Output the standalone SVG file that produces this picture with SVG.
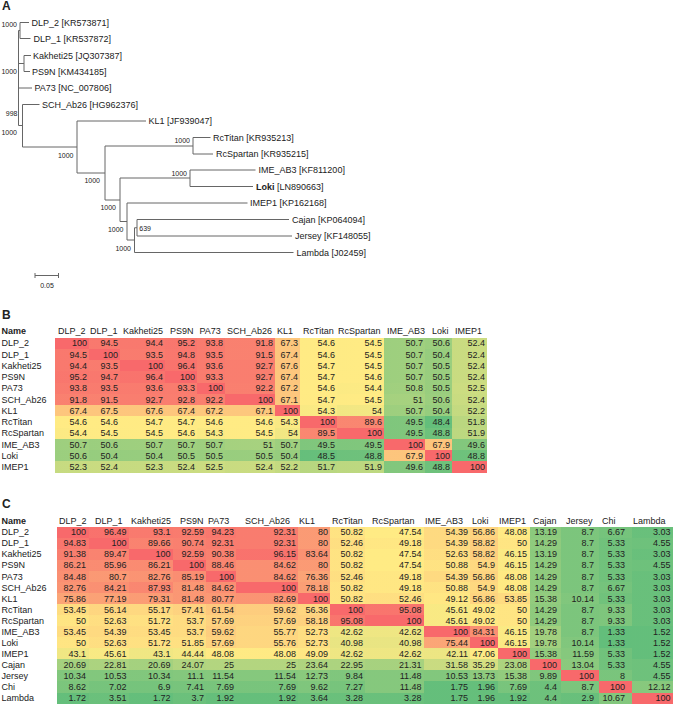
<svg xmlns="http://www.w3.org/2000/svg" width="673" height="704" viewBox="0 0 673 704">
<style>
text{font-family:"Liberation Sans",Arial,sans-serif;fill:#222}
.pl{font-size:12px;font-weight:bold}
.lf{font-size:9px}
.bs{font-size:7px;text-anchor:end}
.t{font-size:9px}
.nm{font-size:9px;font-weight:bold}
.v{font-size:9px;text-anchor:end}
.edge{fill:none;stroke:#666;stroke-width:1}
.hb rect{fill:url(#gB);shape-rendering:crispEdges}
.hc rect{fill:url(#gC);shape-rendering:crispEdges}
</style>
<defs>
<linearGradient id="gB" gradientUnits="userSpaceOnUse" x1="48.4" y1="0" x2="100" y2="0"><stop offset="0" stop-color="#63BE7B"/><stop offset="0.1192" stop-color="#FFEB84"/><stop offset="1" stop-color="#F8696B"/></linearGradient>
<linearGradient id="gC" gradientUnits="userSpaceOnUse" x1="1.33" y1="0" x2="100" y2="0"><stop offset="0" stop-color="#63BE7B"/><stop offset="0.4683" stop-color="#FFEB84"/><stop offset="1" stop-color="#F8696B"/></linearGradient>
</defs>
<rect width="673" height="704" fill="#fff"/>
<text class="pl" x="2" y="10">A</text>
<text class="pl" x="2" y="319">B</text>
<text class="pl" x="2" y="508">C</text>

<g id="connectors">
<path class="edge" d="M29 22.5H20V38.5H30.5M31 55.5H24V71.5H30M20 30.5H18.5V125.5H22.5M18.5 63.5H24M18.5 88H32M39.5 104.5H22.5V147H77M146 121H77V173H105M105 146V200H120M105 146H193M210.5 137.5H193V154H213M120 178V221.5H127M120 178H190M255.5 170H190V186.5H253M247.5 203H127V240H134.5M134.5 227.75V252.5H293.5M134.5 227.75H137M289 219.5H137V236H292"/>
<path class="edge" d="M35 275.5H58.5M35 273V278M58.5 273V278"/>
</g>
<g id="bootstrap">
<text class="bs" x="17" y="27">1000</text>
<text class="bs" x="17" y="73.5">1000</text>
<text class="bs" x="17.5" y="116">998</text>
<text class="bs" x="17" y="135">1000</text>
<text class="bs" x="73.5" y="157.5">1000</text>
<text class="bs" x="190" y="142.7">1000</text>
<text class="bs" x="100" y="183">1000</text>
<text class="bs" x="187" y="175.7">1000</text>
<text class="bs" x="116" y="210">1000</text>
<text class="bs" x="123.5" y="231.7">1000</text>
<text class="bs" x="139.3" y="230.7" style="text-anchor:start">639</text>
<text class="bs" x="131" y="250.7">1000</text>
<text class="bs" x="47" y="287.5" style="text-anchor:middle">0.05</text>
</g>
<g id="leaves">
<g id="n-DLP_2"><text class="lf" x="31.5" y="25.8">DLP_2 [KR573871]</text></g>
<g id="n-DLP_1"><text class="lf" x="33.5" y="41.8">DLP_1 [KR537872]</text></g>
<g id="n-Kakheti25"><text class="lf" x="33" y="58.8">Kakheti25 [JQ307387]</text></g>
<g id="n-PS9N"><text class="lf" x="32" y="74.8">PS9N [KM434185]</text></g>
<g id="n-PA73"><text class="lf" x="34.5" y="91.3">PA73 [NC_007806]</text></g>
<g id="n-SCH_Ab26"><text class="lf" x="42" y="107.8">SCH_Ab26 [HG962376]</text></g>
<g id="n-KL1"><text class="lf" x="148.5" y="124.3">KL1 [JF939047]</text></g>
<g id="n-RcTitan"><text class="lf" x="213" y="140.8">RcTitan [KR935213]</text></g>
<g id="n-RcSpartan"><text class="lf" x="216" y="157.3">RcSpartan [KR935215]</text></g>
<g id="n-IME_AB3"><text class="lf" x="258.5" y="173.3">IME_AB3 [KF811200]</text></g>
<g id="n-Loki"><text class="lf" x="256" y="189.8"><tspan font-weight="bold">Loki</tspan> [LN890663]</text></g>
<g id="n-IMEP1"><text class="lf" x="250" y="206.3">IMEP1 [KP162168]</text></g>
<g id="n-Cajan"><text class="lf" x="292" y="222.8">Cajan [KP064094]</text></g>
<g id="n-Jersey"><text class="lf" x="295" y="239.3">Jersey [KF148055]</text></g>
<g id="n-Lambda"><text class="lf" x="296.5" y="255.8">Lambda [J02459]</text></g>
</g>

<g id="heatmapB">
<g class="hb">
<g transform="translate(55 337.5) scale(340 11.25)"><rect x="100" y="0" width=".1" height="1" transform="translate(-100)"/><rect x="94.5" y="1" width=".1" height="1" transform="translate(-94.5)"/><rect x="94.4" y="2" width=".1" height="1" transform="translate(-94.4)"/><rect x="95.2" y="3" width=".1" height="1" transform="translate(-95.2)"/><rect x="93.8" y="4" width=".1" height="1" transform="translate(-93.8)"/><rect x="91.8" y="5" width=".1" height="1" transform="translate(-91.8)"/><rect x="67.4" y="6" width=".1" height="1" transform="translate(-67.4)"/><rect x="54.6" y="7" width=".1" height="1" transform="translate(-54.6)"/><rect x="54.4" y="8" width=".1" height="1" transform="translate(-54.4)"/><rect x="50.7" y="9" width=".1" height="1" transform="translate(-50.7)"/><rect x="50.6" y="10" width=".1" height="1" transform="translate(-50.6)"/><rect x="52.3" y="11" width=".1" height="1" transform="translate(-52.3)"/></g>
<g transform="translate(89 337.5) scale(310 11.25)"><rect x="94.5" y="0" width=".1" height="1" transform="translate(-94.5)"/><rect x="100" y="1" width=".1" height="1" transform="translate(-100)"/><rect x="93.5" y="2" width=".1" height="1" transform="translate(-93.5)"/><rect x="94.7" y="3" width=".1" height="1" transform="translate(-94.7)"/><rect x="93.5" y="4" width=".1" height="1" transform="translate(-93.5)"/><rect x="91.5" y="5" width=".1" height="1" transform="translate(-91.5)"/><rect x="67.5" y="6" width=".1" height="1" transform="translate(-67.5)"/><rect x="54.6" y="7" width=".1" height="1" transform="translate(-54.6)"/><rect x="54.5" y="8" width=".1" height="1" transform="translate(-54.5)"/><rect x="50.6" y="9" width=".1" height="1" transform="translate(-50.6)"/><rect x="50.4" y="10" width=".1" height="1" transform="translate(-50.4)"/><rect x="52.4" y="11" width=".1" height="1" transform="translate(-52.4)"/></g>
<g transform="translate(120 337.5) scale(450 11.25)"><rect x="94.4" y="0" width=".1" height="1" transform="translate(-94.4)"/><rect x="93.5" y="1" width=".1" height="1" transform="translate(-93.5)"/><rect x="100" y="2" width=".1" height="1" transform="translate(-100)"/><rect x="96.4" y="3" width=".1" height="1" transform="translate(-96.4)"/><rect x="93.6" y="4" width=".1" height="1" transform="translate(-93.6)"/><rect x="92.7" y="5" width=".1" height="1" transform="translate(-92.7)"/><rect x="67.6" y="6" width=".1" height="1" transform="translate(-67.6)"/><rect x="54.7" y="7" width=".1" height="1" transform="translate(-54.7)"/><rect x="54.5" y="8" width=".1" height="1" transform="translate(-54.5)"/><rect x="50.7" y="9" width=".1" height="1" transform="translate(-50.7)"/><rect x="50.4" y="10" width=".1" height="1" transform="translate(-50.4)"/><rect x="52.3" y="11" width=".1" height="1" transform="translate(-52.3)"/></g>
<g transform="translate(165 337.5) scale(320 11.25)"><rect x="95.2" y="0" width=".1" height="1" transform="translate(-95.2)"/><rect x="94.8" y="1" width=".1" height="1" transform="translate(-94.8)"/><rect x="96.4" y="2" width=".1" height="1" transform="translate(-96.4)"/><rect x="100" y="3" width=".1" height="1" transform="translate(-100)"/><rect x="93.3" y="4" width=".1" height="1" transform="translate(-93.3)"/><rect x="92.8" y="5" width=".1" height="1" transform="translate(-92.8)"/><rect x="67.4" y="6" width=".1" height="1" transform="translate(-67.4)"/><rect x="54.7" y="7" width=".1" height="1" transform="translate(-54.7)"/><rect x="54.6" y="8" width=".1" height="1" transform="translate(-54.6)"/><rect x="50.7" y="9" width=".1" height="1" transform="translate(-50.7)"/><rect x="50.5" y="10" width=".1" height="1" transform="translate(-50.5)"/><rect x="52.4" y="11" width=".1" height="1" transform="translate(-52.4)"/></g>
<g transform="translate(197 337.5) scale(280 11.25)"><rect x="93.8" y="0" width=".1" height="1" transform="translate(-93.8)"/><rect x="93.5" y="1" width=".1" height="1" transform="translate(-93.5)"/><rect x="93.6" y="2" width=".1" height="1" transform="translate(-93.6)"/><rect x="93.3" y="3" width=".1" height="1" transform="translate(-93.3)"/><rect x="100" y="4" width=".1" height="1" transform="translate(-100)"/><rect x="92.2" y="5" width=".1" height="1" transform="translate(-92.2)"/><rect x="67.2" y="6" width=".1" height="1" transform="translate(-67.2)"/><rect x="54.6" y="7" width=".1" height="1" transform="translate(-54.6)"/><rect x="54.3" y="8" width=".1" height="1" transform="translate(-54.3)"/><rect x="50.7" y="9" width=".1" height="1" transform="translate(-50.7)"/><rect x="50.5" y="10" width=".1" height="1" transform="translate(-50.5)"/><rect x="52.5" y="11" width=".1" height="1" transform="translate(-52.5)"/></g>
<g transform="translate(225 337.5) scale(500 11.25)"><rect x="91.8" y="0" width=".1" height="1" transform="translate(-91.8)"/><rect x="91.5" y="1" width=".1" height="1" transform="translate(-91.5)"/><rect x="92.7" y="2" width=".1" height="1" transform="translate(-92.7)"/><rect x="92.7" y="3" width=".1" height="1" transform="translate(-92.7)"/><rect x="92.2" y="4" width=".1" height="1" transform="translate(-92.2)"/><rect x="100" y="5" width=".1" height="1" transform="translate(-100)"/><rect x="67.1" y="6" width=".1" height="1" transform="translate(-67.1)"/><rect x="54.6" y="7" width=".1" height="1" transform="translate(-54.6)"/><rect x="54.5" y="8" width=".1" height="1" transform="translate(-54.5)"/><rect x="51" y="9" width=".1" height="1" transform="translate(-51)"/><rect x="50.5" y="10" width=".1" height="1" transform="translate(-50.5)"/><rect x="52.4" y="11" width=".1" height="1" transform="translate(-52.4)"/></g>
<g transform="translate(275 337.5) scale(250 11.25)"><rect x="67.3" y="0" width=".1" height="1" transform="translate(-67.3)"/><rect x="67.4" y="1" width=".1" height="1" transform="translate(-67.4)"/><rect x="67.6" y="2" width=".1" height="1" transform="translate(-67.6)"/><rect x="67.4" y="3" width=".1" height="1" transform="translate(-67.4)"/><rect x="67.2" y="4" width=".1" height="1" transform="translate(-67.2)"/><rect x="67.1" y="5" width=".1" height="1" transform="translate(-67.1)"/><rect x="100" y="6" width=".1" height="1" transform="translate(-100)"/><rect x="54.3" y="7" width=".1" height="1" transform="translate(-54.3)"/><rect x="54" y="8" width=".1" height="1" transform="translate(-54)"/><rect x="50.7" y="9" width=".1" height="1" transform="translate(-50.7)"/><rect x="50.4" y="10" width=".1" height="1" transform="translate(-50.4)"/><rect x="52.2" y="11" width=".1" height="1" transform="translate(-52.2)"/></g>
<g transform="translate(300 337.5) scale(370 11.25)"><rect x="54.6" y="0" width=".1" height="1" transform="translate(-54.6)"/><rect x="54.6" y="1" width=".1" height="1" transform="translate(-54.6)"/><rect x="54.7" y="2" width=".1" height="1" transform="translate(-54.7)"/><rect x="54.7" y="3" width=".1" height="1" transform="translate(-54.7)"/><rect x="54.6" y="4" width=".1" height="1" transform="translate(-54.6)"/><rect x="54.7" y="5" width=".1" height="1" transform="translate(-54.7)"/><rect x="54.3" y="6" width=".1" height="1" transform="translate(-54.3)"/><rect x="100" y="7" width=".1" height="1" transform="translate(-100)"/><rect x="89.5" y="8" width=".1" height="1" transform="translate(-89.5)"/><rect x="49.5" y="9" width=".1" height="1" transform="translate(-49.5)"/><rect x="48.5" y="10" width=".1" height="1" transform="translate(-48.5)"/><rect x="51.7" y="11" width=".1" height="1" transform="translate(-51.7)"/></g>
<g transform="translate(337 337.5) scale(470 11.25)"><rect x="54.5" y="0" width=".1" height="1" transform="translate(-54.5)"/><rect x="54.5" y="1" width=".1" height="1" transform="translate(-54.5)"/><rect x="54.5" y="2" width=".1" height="1" transform="translate(-54.5)"/><rect x="54.6" y="3" width=".1" height="1" transform="translate(-54.6)"/><rect x="54.4" y="4" width=".1" height="1" transform="translate(-54.4)"/><rect x="54.5" y="5" width=".1" height="1" transform="translate(-54.5)"/><rect x="54" y="6" width=".1" height="1" transform="translate(-54)"/><rect x="89.6" y="7" width=".1" height="1" transform="translate(-89.6)"/><rect x="100" y="8" width=".1" height="1" transform="translate(-100)"/><rect x="49.5" y="9" width=".1" height="1" transform="translate(-49.5)"/><rect x="48.8" y="10" width=".1" height="1" transform="translate(-48.8)"/><rect x="51.9" y="11" width=".1" height="1" transform="translate(-51.9)"/></g>
<g transform="translate(384 337.5) scale(410 11.25)"><rect x="50.7" y="0" width=".1" height="1" transform="translate(-50.7)"/><rect x="50.7" y="1" width=".1" height="1" transform="translate(-50.7)"/><rect x="50.7" y="2" width=".1" height="1" transform="translate(-50.7)"/><rect x="50.7" y="3" width=".1" height="1" transform="translate(-50.7)"/><rect x="50.8" y="4" width=".1" height="1" transform="translate(-50.8)"/><rect x="51" y="5" width=".1" height="1" transform="translate(-51)"/><rect x="50.7" y="6" width=".1" height="1" transform="translate(-50.7)"/><rect x="49.5" y="7" width=".1" height="1" transform="translate(-49.5)"/><rect x="49.5" y="8" width=".1" height="1" transform="translate(-49.5)"/><rect x="100" y="9" width=".1" height="1" transform="translate(-100)"/><rect x="67.9" y="10" width=".1" height="1" transform="translate(-67.9)"/><rect x="49.6" y="11" width=".1" height="1" transform="translate(-49.6)"/></g>
<g transform="translate(425 337.5) scale(270 11.25)"><rect x="50.6" y="0" width=".1" height="1" transform="translate(-50.6)"/><rect x="50.4" y="1" width=".1" height="1" transform="translate(-50.4)"/><rect x="50.5" y="2" width=".1" height="1" transform="translate(-50.5)"/><rect x="50.5" y="3" width=".1" height="1" transform="translate(-50.5)"/><rect x="50.5" y="4" width=".1" height="1" transform="translate(-50.5)"/><rect x="50.6" y="5" width=".1" height="1" transform="translate(-50.6)"/><rect x="50.4" y="6" width=".1" height="1" transform="translate(-50.4)"/><rect x="48.4" y="7" width=".1" height="1" transform="translate(-48.4)"/><rect x="48.8" y="8" width=".1" height="1" transform="translate(-48.8)"/><rect x="67.9" y="9" width=".1" height="1" transform="translate(-67.9)"/><rect x="100" y="10" width=".1" height="1" transform="translate(-100)"/><rect x="48.8" y="11" width=".1" height="1" transform="translate(-48.8)"/></g>
<g transform="translate(452 337.5) scale(350 11.25)"><rect x="52.4" y="0" width=".1" height="1" transform="translate(-52.4)"/><rect x="52.4" y="1" width=".1" height="1" transform="translate(-52.4)"/><rect x="52.4" y="2" width=".1" height="1" transform="translate(-52.4)"/><rect x="52.4" y="3" width=".1" height="1" transform="translate(-52.4)"/><rect x="52.5" y="4" width=".1" height="1" transform="translate(-52.5)"/><rect x="52.4" y="5" width=".1" height="1" transform="translate(-52.4)"/><rect x="52.2" y="6" width=".1" height="1" transform="translate(-52.2)"/><rect x="51.8" y="7" width=".1" height="1" transform="translate(-51.8)"/><rect x="51.9" y="8" width=".1" height="1" transform="translate(-51.9)"/><rect x="49.6" y="9" width=".1" height="1" transform="translate(-49.6)"/><rect x="48.8" y="10" width=".1" height="1" transform="translate(-48.8)"/><rect x="100" y="11" width=".1" height="1" transform="translate(-100)"/></g>
</g>
<text class="nm" x="1.5" y="334.3">Name</text>
<text class="t" y="334.3"><tspan x="58">DLP_2</tspan><tspan x="90">DLP_1</tspan><tspan x="123">Kakheti25</tspan><tspan x="170">PS9N</tspan><tspan x="199.5">PA73</tspan><tspan x="227">SCH_Ab26</tspan><tspan x="277">KL1</tspan><tspan x="303">RcTitan</tspan><tspan x="338">RcSpartan</tspan><tspan x="387">IME_AB3</tspan><tspan x="432">Loki</tspan><tspan x="455">IMEP1</tspan></text>
<g class="t">
<text x="1.5" y="346.3">DLP_2</text><text x="1.5" y="357.55">DLP_1</text><text x="1.5" y="368.8">Kakheti25</text><text x="1.5" y="380.05">PS9N</text><text x="1.5" y="391.3">PA73</text><text x="1.5" y="402.55">SCH_Ab26</text><text x="1.5" y="413.8">KL1</text><text x="1.5" y="425.05">RcTitan</text><text x="1.5" y="436.3">RcSpartan</text><text x="1.5" y="447.55">IME_AB3</text><text x="1.5" y="458.8">Loki</text><text x="1.5" y="470.05">IMEP1</text>
</g>
<text class="v" y="346.3"><tspan x="87">100</tspan><tspan x="118">94.5</tspan><tspan x="163">94.4</tspan><tspan x="195">95.2</tspan><tspan x="223">93.8</tspan><tspan x="273">91.8</tspan><tspan x="298">67.3</tspan><tspan x="335">54.6</tspan><tspan x="382">54.5</tspan><tspan x="423">50.7</tspan><tspan x="450">50.6</tspan><tspan x="485">52.4</tspan></text>
<text class="v" y="357.55"><tspan x="87">94.5</tspan><tspan x="118">100</tspan><tspan x="163">93.5</tspan><tspan x="195">94.8</tspan><tspan x="223">93.5</tspan><tspan x="273">91.5</tspan><tspan x="298">67.4</tspan><tspan x="335">54.6</tspan><tspan x="382">54.5</tspan><tspan x="423">50.7</tspan><tspan x="450">50.4</tspan><tspan x="485">52.4</tspan></text>
<text class="v" y="368.8"><tspan x="87">94.4</tspan><tspan x="118">93.5</tspan><tspan x="163">100</tspan><tspan x="195">96.4</tspan><tspan x="223">93.6</tspan><tspan x="273">92.7</tspan><tspan x="298">67.6</tspan><tspan x="335">54.7</tspan><tspan x="382">54.5</tspan><tspan x="423">50.7</tspan><tspan x="450">50.5</tspan><tspan x="485">52.4</tspan></text>
<text class="v" y="380.05"><tspan x="87">95.2</tspan><tspan x="118">94.7</tspan><tspan x="163">96.4</tspan><tspan x="195">100</tspan><tspan x="223">93.3</tspan><tspan x="273">92.7</tspan><tspan x="298">67.4</tspan><tspan x="335">54.7</tspan><tspan x="382">54.6</tspan><tspan x="423">50.7</tspan><tspan x="450">50.5</tspan><tspan x="485">52.4</tspan></text>
<text class="v" y="391.3"><tspan x="87">93.8</tspan><tspan x="118">93.5</tspan><tspan x="163">93.6</tspan><tspan x="195">93.3</tspan><tspan x="223">100</tspan><tspan x="273">92.2</tspan><tspan x="298">67.2</tspan><tspan x="335">54.6</tspan><tspan x="382">54.4</tspan><tspan x="423">50.8</tspan><tspan x="450">50.5</tspan><tspan x="485">52.5</tspan></text>
<text class="v" y="402.55"><tspan x="87">91.8</tspan><tspan x="118">91.5</tspan><tspan x="163">92.7</tspan><tspan x="195">92.8</tspan><tspan x="223">92.2</tspan><tspan x="273">100</tspan><tspan x="298">67.1</tspan><tspan x="335">54.7</tspan><tspan x="382">54.5</tspan><tspan x="423">51</tspan><tspan x="450">50.6</tspan><tspan x="485">52.4</tspan></text>
<text class="v" y="413.8"><tspan x="87">67.4</tspan><tspan x="118">67.5</tspan><tspan x="163">67.6</tspan><tspan x="195">67.4</tspan><tspan x="223">67.2</tspan><tspan x="273">67.1</tspan><tspan x="298">100</tspan><tspan x="335">54.3</tspan><tspan x="382">54</tspan><tspan x="423">50.7</tspan><tspan x="450">50.4</tspan><tspan x="485">52.2</tspan></text>
<text class="v" y="425.05"><tspan x="87">54.6</tspan><tspan x="118">54.6</tspan><tspan x="163">54.7</tspan><tspan x="195">54.7</tspan><tspan x="223">54.6</tspan><tspan x="273">54.6</tspan><tspan x="298">54.3</tspan><tspan x="335">100</tspan><tspan x="382">89.6</tspan><tspan x="423">49.5</tspan><tspan x="450">48.4</tspan><tspan x="485">51.8</tspan></text>
<text class="v" y="436.3"><tspan x="87">54.4</tspan><tspan x="118">54.5</tspan><tspan x="163">54.5</tspan><tspan x="195">54.6</tspan><tspan x="223">54.3</tspan><tspan x="273">54.5</tspan><tspan x="298">54</tspan><tspan x="335">89.5</tspan><tspan x="382">100</tspan><tspan x="423">49.5</tspan><tspan x="450">48.8</tspan><tspan x="485">51.9</tspan></text>
<text class="v" y="447.55"><tspan x="87">50.7</tspan><tspan x="118">50.6</tspan><tspan x="163">50.7</tspan><tspan x="195">50.7</tspan><tspan x="223">50.7</tspan><tspan x="273">51</tspan><tspan x="298">50.7</tspan><tspan x="335">49.5</tspan><tspan x="382">49.5</tspan><tspan x="423">100</tspan><tspan x="450">67.9</tspan><tspan x="485">49.6</tspan></text>
<text class="v" y="458.8"><tspan x="87">50.6</tspan><tspan x="118">50.4</tspan><tspan x="163">50.4</tspan><tspan x="195">50.5</tspan><tspan x="223">50.5</tspan><tspan x="273">50.5</tspan><tspan x="298">50.4</tspan><tspan x="335">48.5</tspan><tspan x="382">48.8</tspan><tspan x="423">67.9</tspan><tspan x="450">100</tspan><tspan x="485">48.8</tspan></text>
<text class="v" y="470.05"><tspan x="87">52.3</tspan><tspan x="118">52.4</tspan><tspan x="163">52.3</tspan><tspan x="195">52.4</tspan><tspan x="223">52.5</tspan><tspan x="273">52.4</tspan><tspan x="298">52.2</tspan><tspan x="335">51.7</tspan><tspan x="382">51.9</tspan><tspan x="423">49.6</tspan><tspan x="450">48.8</tspan><tspan x="485">100</tspan></text>
</g>

<g id="heatmapC">
<g class="hc">
<g transform="translate(57 526.5) scale(320 11.07)"><rect x="100" y="0" width=".1" height="1" transform="translate(-100)"/><rect x="94.83" y="1" width=".1" height="1" transform="translate(-94.83)"/><rect x="91.38" y="2" width=".1" height="1" transform="translate(-91.38)"/><rect x="86.21" y="3" width=".1" height="1" transform="translate(-86.21)"/><rect x="84.48" y="4" width=".1" height="1" transform="translate(-84.48)"/><rect x="82.76" y="5" width=".1" height="1" transform="translate(-82.76)"/><rect x="75.86" y="6" width=".1" height="1" transform="translate(-75.86)"/><rect x="53.45" y="7" width=".1" height="1" transform="translate(-53.45)"/><rect x="50" y="8" width=".1" height="1" transform="translate(-50)"/><rect x="53.45" y="9" width=".1" height="1" transform="translate(-53.45)"/><rect x="50" y="10" width=".1" height="1" transform="translate(-50)"/><rect x="43.1" y="11" width=".1" height="1" transform="translate(-43.1)"/><rect x="20.69" y="12" width=".1" height="1" transform="translate(-20.69)"/><rect x="10.34" y="13" width=".1" height="1" transform="translate(-10.34)"/><rect x="8.62" y="14" width=".1" height="1" transform="translate(-8.62)"/><rect x="1.72" y="15" width=".1" height="1" transform="translate(-1.72)"/></g>
<g transform="translate(89 526.5) scale(400 11.07)"><rect x="96.49" y="0" width=".1" height="1" transform="translate(-96.49)"/><rect x="100" y="1" width=".1" height="1" transform="translate(-100)"/><rect x="89.47" y="2" width=".1" height="1" transform="translate(-89.47)"/><rect x="85.96" y="3" width=".1" height="1" transform="translate(-85.96)"/><rect x="80.7" y="4" width=".1" height="1" transform="translate(-80.7)"/><rect x="84.21" y="5" width=".1" height="1" transform="translate(-84.21)"/><rect x="77.19" y="6" width=".1" height="1" transform="translate(-77.19)"/><rect x="56.14" y="7" width=".1" height="1" transform="translate(-56.14)"/><rect x="52.63" y="8" width=".1" height="1" transform="translate(-52.63)"/><rect x="54.39" y="9" width=".1" height="1" transform="translate(-54.39)"/><rect x="52.63" y="10" width=".1" height="1" transform="translate(-52.63)"/><rect x="45.61" y="11" width=".1" height="1" transform="translate(-45.61)"/><rect x="22.81" y="12" width=".1" height="1" transform="translate(-22.81)"/><rect x="10.53" y="13" width=".1" height="1" transform="translate(-10.53)"/><rect x="7.02" y="14" width=".1" height="1" transform="translate(-7.02)"/><rect x="3.51" y="15" width=".1" height="1" transform="translate(-3.51)"/></g>
<g transform="translate(129 526.5) scale(440 11.07)"><rect x="93.1" y="0" width=".1" height="1" transform="translate(-93.1)"/><rect x="89.66" y="1" width=".1" height="1" transform="translate(-89.66)"/><rect x="100" y="2" width=".1" height="1" transform="translate(-100)"/><rect x="86.21" y="3" width=".1" height="1" transform="translate(-86.21)"/><rect x="82.76" y="4" width=".1" height="1" transform="translate(-82.76)"/><rect x="87.93" y="5" width=".1" height="1" transform="translate(-87.93)"/><rect x="79.31" y="6" width=".1" height="1" transform="translate(-79.31)"/><rect x="55.17" y="7" width=".1" height="1" transform="translate(-55.17)"/><rect x="51.72" y="8" width=".1" height="1" transform="translate(-51.72)"/><rect x="53.45" y="9" width=".1" height="1" transform="translate(-53.45)"/><rect x="51.72" y="10" width=".1" height="1" transform="translate(-51.72)"/><rect x="43.1" y="11" width=".1" height="1" transform="translate(-43.1)"/><rect x="20.69" y="12" width=".1" height="1" transform="translate(-20.69)"/><rect x="10.34" y="13" width=".1" height="1" transform="translate(-10.34)"/><rect x="6.9" y="14" width=".1" height="1" transform="translate(-6.9)"/><rect x="1.72" y="15" width=".1" height="1" transform="translate(-1.72)"/></g>
<g transform="translate(173 526.5) scale(330 11.07)"><rect x="92.59" y="0" width=".1" height="1" transform="translate(-92.59)"/><rect x="90.74" y="1" width=".1" height="1" transform="translate(-90.74)"/><rect x="92.59" y="2" width=".1" height="1" transform="translate(-92.59)"/><rect x="100" y="3" width=".1" height="1" transform="translate(-100)"/><rect x="85.19" y="4" width=".1" height="1" transform="translate(-85.19)"/><rect x="81.48" y="5" width=".1" height="1" transform="translate(-81.48)"/><rect x="81.48" y="6" width=".1" height="1" transform="translate(-81.48)"/><rect x="57.41" y="7" width=".1" height="1" transform="translate(-57.41)"/><rect x="53.7" y="8" width=".1" height="1" transform="translate(-53.7)"/><rect x="53.7" y="9" width=".1" height="1" transform="translate(-53.7)"/><rect x="51.85" y="10" width=".1" height="1" transform="translate(-51.85)"/><rect x="44.44" y="11" width=".1" height="1" transform="translate(-44.44)"/><rect x="24.07" y="12" width=".1" height="1" transform="translate(-24.07)"/><rect x="11.1" y="13" width=".1" height="1" transform="translate(-11.1)"/><rect x="7.41" y="14" width=".1" height="1" transform="translate(-7.41)"/><rect x="3.7" y="15" width=".1" height="1" transform="translate(-3.7)"/></g>
<g transform="translate(206 526.5) scale(300 11.07)"><rect x="94.23" y="0" width=".1" height="1" transform="translate(-94.23)"/><rect x="92.31" y="1" width=".1" height="1" transform="translate(-92.31)"/><rect x="90.38" y="2" width=".1" height="1" transform="translate(-90.38)"/><rect x="88.46" y="3" width=".1" height="1" transform="translate(-88.46)"/><rect x="100" y="4" width=".1" height="1" transform="translate(-100)"/><rect x="84.62" y="5" width=".1" height="1" transform="translate(-84.62)"/><rect x="80.77" y="6" width=".1" height="1" transform="translate(-80.77)"/><rect x="61.54" y="7" width=".1" height="1" transform="translate(-61.54)"/><rect x="57.69" y="8" width=".1" height="1" transform="translate(-57.69)"/><rect x="59.62" y="9" width=".1" height="1" transform="translate(-59.62)"/><rect x="57.69" y="10" width=".1" height="1" transform="translate(-57.69)"/><rect x="48.08" y="11" width=".1" height="1" transform="translate(-48.08)"/><rect x="25" y="12" width=".1" height="1" transform="translate(-25)"/><rect x="11.54" y="13" width=".1" height="1" transform="translate(-11.54)"/><rect x="7.69" y="14" width=".1" height="1" transform="translate(-7.69)"/><rect x="1.92" y="15" width=".1" height="1" transform="translate(-1.92)"/></g>
<g transform="translate(236 526.5) scale(620 11.07)"><rect x="92.31" y="0" width=".1" height="1" transform="translate(-92.31)"/><rect x="92.31" y="1" width=".1" height="1" transform="translate(-92.31)"/><rect x="96.15" y="2" width=".1" height="1" transform="translate(-96.15)"/><rect x="84.62" y="3" width=".1" height="1" transform="translate(-84.62)"/><rect x="84.62" y="4" width=".1" height="1" transform="translate(-84.62)"/><rect x="100" y="5" width=".1" height="1" transform="translate(-100)"/><rect x="82.69" y="6" width=".1" height="1" transform="translate(-82.69)"/><rect x="59.62" y="7" width=".1" height="1" transform="translate(-59.62)"/><rect x="57.69" y="8" width=".1" height="1" transform="translate(-57.69)"/><rect x="55.77" y="9" width=".1" height="1" transform="translate(-55.77)"/><rect x="55.76" y="10" width=".1" height="1" transform="translate(-55.76)"/><rect x="48.08" y="11" width=".1" height="1" transform="translate(-48.08)"/><rect x="25" y="12" width=".1" height="1" transform="translate(-25)"/><rect x="11.54" y="13" width=".1" height="1" transform="translate(-11.54)"/><rect x="7.69" y="14" width=".1" height="1" transform="translate(-7.69)"/><rect x="1.92" y="15" width=".1" height="1" transform="translate(-1.92)"/></g>
<g transform="translate(298 526.5) scale(320 11.07)"><rect x="80" y="0" width=".1" height="1" transform="translate(-80)"/><rect x="80" y="1" width=".1" height="1" transform="translate(-80)"/><rect x="83.64" y="2" width=".1" height="1" transform="translate(-83.64)"/><rect x="80" y="3" width=".1" height="1" transform="translate(-80)"/><rect x="76.36" y="4" width=".1" height="1" transform="translate(-76.36)"/><rect x="78.18" y="5" width=".1" height="1" transform="translate(-78.18)"/><rect x="100" y="6" width=".1" height="1" transform="translate(-100)"/><rect x="56.36" y="7" width=".1" height="1" transform="translate(-56.36)"/><rect x="58.18" y="8" width=".1" height="1" transform="translate(-58.18)"/><rect x="52.73" y="9" width=".1" height="1" transform="translate(-52.73)"/><rect x="52.73" y="10" width=".1" height="1" transform="translate(-52.73)"/><rect x="49.09" y="11" width=".1" height="1" transform="translate(-49.09)"/><rect x="23.64" y="12" width=".1" height="1" transform="translate(-23.64)"/><rect x="12.73" y="13" width=".1" height="1" transform="translate(-12.73)"/><rect x="9.62" y="14" width=".1" height="1" transform="translate(-9.62)"/><rect x="3.64" y="15" width=".1" height="1" transform="translate(-3.64)"/></g>
<g transform="translate(330 526.5) scale(350 11.07)"><rect x="50.82" y="0" width=".1" height="1" transform="translate(-50.82)"/><rect x="52.46" y="1" width=".1" height="1" transform="translate(-52.46)"/><rect x="50.82" y="2" width=".1" height="1" transform="translate(-50.82)"/><rect x="50.82" y="3" width=".1" height="1" transform="translate(-50.82)"/><rect x="52.46" y="4" width=".1" height="1" transform="translate(-52.46)"/><rect x="50.82" y="5" width=".1" height="1" transform="translate(-50.82)"/><rect x="50.82" y="6" width=".1" height="1" transform="translate(-50.82)"/><rect x="100" y="7" width=".1" height="1" transform="translate(-100)"/><rect x="95.08" y="8" width=".1" height="1" transform="translate(-95.08)"/><rect x="42.62" y="9" width=".1" height="1" transform="translate(-42.62)"/><rect x="40.98" y="10" width=".1" height="1" transform="translate(-40.98)"/><rect x="42.62" y="11" width=".1" height="1" transform="translate(-42.62)"/><rect x="22.95" y="12" width=".1" height="1" transform="translate(-22.95)"/><rect x="9.84" y="13" width=".1" height="1" transform="translate(-9.84)"/><rect x="7.27" y="14" width=".1" height="1" transform="translate(-7.27)"/><rect x="3.28" y="15" width=".1" height="1" transform="translate(-3.28)"/></g>
<g transform="translate(365 526.5) scale(590 11.07)"><rect x="47.54" y="0" width=".1" height="1" transform="translate(-47.54)"/><rect x="49.18" y="1" width=".1" height="1" transform="translate(-49.18)"/><rect x="47.54" y="2" width=".1" height="1" transform="translate(-47.54)"/><rect x="47.54" y="3" width=".1" height="1" transform="translate(-47.54)"/><rect x="49.18" y="4" width=".1" height="1" transform="translate(-49.18)"/><rect x="49.18" y="5" width=".1" height="1" transform="translate(-49.18)"/><rect x="52.46" y="6" width=".1" height="1" transform="translate(-52.46)"/><rect x="95.08" y="7" width=".1" height="1" transform="translate(-95.08)"/><rect x="100" y="8" width=".1" height="1" transform="translate(-100)"/><rect x="42.62" y="9" width=".1" height="1" transform="translate(-42.62)"/><rect x="40.98" y="10" width=".1" height="1" transform="translate(-40.98)"/><rect x="42.62" y="11" width=".1" height="1" transform="translate(-42.62)"/><rect x="21.31" y="12" width=".1" height="1" transform="translate(-21.31)"/><rect x="11.48" y="13" width=".1" height="1" transform="translate(-11.48)"/><rect x="11.48" y="14" width=".1" height="1" transform="translate(-11.48)"/><rect x="3.28" y="15" width=".1" height="1" transform="translate(-3.28)"/></g>
<g transform="translate(424 526.5) scale(460 11.07)"><rect x="54.39" y="0" width=".1" height="1" transform="translate(-54.39)"/><rect x="54.39" y="1" width=".1" height="1" transform="translate(-54.39)"/><rect x="52.63" y="2" width=".1" height="1" transform="translate(-52.63)"/><rect x="50.88" y="3" width=".1" height="1" transform="translate(-50.88)"/><rect x="54.39" y="4" width=".1" height="1" transform="translate(-54.39)"/><rect x="50.88" y="5" width=".1" height="1" transform="translate(-50.88)"/><rect x="49.12" y="6" width=".1" height="1" transform="translate(-49.12)"/><rect x="45.61" y="7" width=".1" height="1" transform="translate(-45.61)"/><rect x="45.61" y="8" width=".1" height="1" transform="translate(-45.61)"/><rect x="100" y="9" width=".1" height="1" transform="translate(-100)"/><rect x="75.44" y="10" width=".1" height="1" transform="translate(-75.44)"/><rect x="42.11" y="11" width=".1" height="1" transform="translate(-42.11)"/><rect x="31.58" y="12" width=".1" height="1" transform="translate(-31.58)"/><rect x="10.53" y="13" width=".1" height="1" transform="translate(-10.53)"/><rect x="1.75" y="14" width=".1" height="1" transform="translate(-1.75)"/><rect x="1.75" y="15" width=".1" height="1" transform="translate(-1.75)"/></g>
<g transform="translate(470 526.5) scale(280 11.07)"><rect x="56.86" y="0" width=".1" height="1" transform="translate(-56.86)"/><rect x="58.82" y="1" width=".1" height="1" transform="translate(-58.82)"/><rect x="58.82" y="2" width=".1" height="1" transform="translate(-58.82)"/><rect x="54.9" y="3" width=".1" height="1" transform="translate(-54.9)"/><rect x="56.86" y="4" width=".1" height="1" transform="translate(-56.86)"/><rect x="54.9" y="5" width=".1" height="1" transform="translate(-54.9)"/><rect x="56.86" y="6" width=".1" height="1" transform="translate(-56.86)"/><rect x="49.02" y="7" width=".1" height="1" transform="translate(-49.02)"/><rect x="49.02" y="8" width=".1" height="1" transform="translate(-49.02)"/><rect x="84.31" y="9" width=".1" height="1" transform="translate(-84.31)"/><rect x="100" y="10" width=".1" height="1" transform="translate(-100)"/><rect x="47.06" y="11" width=".1" height="1" transform="translate(-47.06)"/><rect x="35.29" y="12" width=".1" height="1" transform="translate(-35.29)"/><rect x="13.73" y="13" width=".1" height="1" transform="translate(-13.73)"/><rect x="1.96" y="14" width=".1" height="1" transform="translate(-1.96)"/><rect x="1.96" y="15" width=".1" height="1" transform="translate(-1.96)"/></g>
<g transform="translate(498 526.5) scale(320 11.07)"><rect x="48.08" y="0" width=".1" height="1" transform="translate(-48.08)"/><rect x="50" y="1" width=".1" height="1" transform="translate(-50)"/><rect x="46.15" y="2" width=".1" height="1" transform="translate(-46.15)"/><rect x="46.15" y="3" width=".1" height="1" transform="translate(-46.15)"/><rect x="48.08" y="4" width=".1" height="1" transform="translate(-48.08)"/><rect x="48.08" y="5" width=".1" height="1" transform="translate(-48.08)"/><rect x="53.85" y="6" width=".1" height="1" transform="translate(-53.85)"/><rect x="50" y="7" width=".1" height="1" transform="translate(-50)"/><rect x="50" y="8" width=".1" height="1" transform="translate(-50)"/><rect x="46.15" y="9" width=".1" height="1" transform="translate(-46.15)"/><rect x="46.15" y="10" width=".1" height="1" transform="translate(-46.15)"/><rect x="100" y="11" width=".1" height="1" transform="translate(-100)"/><rect x="23.08" y="12" width=".1" height="1" transform="translate(-23.08)"/><rect x="15.38" y="13" width=".1" height="1" transform="translate(-15.38)"/><rect x="7.69" y="14" width=".1" height="1" transform="translate(-7.69)"/><rect x="1.92" y="15" width=".1" height="1" transform="translate(-1.92)"/></g>
<g transform="translate(530 526.5) scale(310 11.07)"><rect x="13.19" y="0" width=".1" height="1" transform="translate(-13.19)"/><rect x="14.29" y="1" width=".1" height="1" transform="translate(-14.29)"/><rect x="13.19" y="2" width=".1" height="1" transform="translate(-13.19)"/><rect x="14.29" y="3" width=".1" height="1" transform="translate(-14.29)"/><rect x="14.29" y="4" width=".1" height="1" transform="translate(-14.29)"/><rect x="14.29" y="5" width=".1" height="1" transform="translate(-14.29)"/><rect x="15.38" y="6" width=".1" height="1" transform="translate(-15.38)"/><rect x="14.29" y="7" width=".1" height="1" transform="translate(-14.29)"/><rect x="14.29" y="8" width=".1" height="1" transform="translate(-14.29)"/><rect x="19.78" y="9" width=".1" height="1" transform="translate(-19.78)"/><rect x="19.78" y="10" width=".1" height="1" transform="translate(-19.78)"/><rect x="15.38" y="11" width=".1" height="1" transform="translate(-15.38)"/><rect x="100" y="12" width=".1" height="1" transform="translate(-100)"/><rect x="9.89" y="13" width=".1" height="1" transform="translate(-9.89)"/><rect x="4.4" y="14" width=".1" height="1" transform="translate(-4.4)"/><rect x="4.4" y="15" width=".1" height="1" transform="translate(-4.4)"/></g>
<g transform="translate(561 526.5) scale(380 11.07)"><rect x="8.7" y="0" width=".1" height="1" transform="translate(-8.7)"/><rect x="8.7" y="1" width=".1" height="1" transform="translate(-8.7)"/><rect x="8.7" y="2" width=".1" height="1" transform="translate(-8.7)"/><rect x="8.7" y="3" width=".1" height="1" transform="translate(-8.7)"/><rect x="8.7" y="4" width=".1" height="1" transform="translate(-8.7)"/><rect x="8.7" y="5" width=".1" height="1" transform="translate(-8.7)"/><rect x="10.14" y="6" width=".1" height="1" transform="translate(-10.14)"/><rect x="8.7" y="7" width=".1" height="1" transform="translate(-8.7)"/><rect x="8.7" y="8" width=".1" height="1" transform="translate(-8.7)"/><rect x="8.7" y="9" width=".1" height="1" transform="translate(-8.7)"/><rect x="10.14" y="10" width=".1" height="1" transform="translate(-10.14)"/><rect x="11.59" y="11" width=".1" height="1" transform="translate(-11.59)"/><rect x="13.04" y="12" width=".1" height="1" transform="translate(-13.04)"/><rect x="100" y="13" width=".1" height="1" transform="translate(-100)"/><rect x="8.7" y="14" width=".1" height="1" transform="translate(-8.7)"/><rect x="2.9" y="15" width=".1" height="1" transform="translate(-2.9)"/></g>
<g transform="translate(599 526.5) scale(330 11.07)"><rect x="6.67" y="0" width=".1" height="1" transform="translate(-6.67)"/><rect x="5.33" y="1" width=".1" height="1" transform="translate(-5.33)"/><rect x="5.33" y="2" width=".1" height="1" transform="translate(-5.33)"/><rect x="5.33" y="3" width=".1" height="1" transform="translate(-5.33)"/><rect x="5.33" y="4" width=".1" height="1" transform="translate(-5.33)"/><rect x="6.67" y="5" width=".1" height="1" transform="translate(-6.67)"/><rect x="5.33" y="6" width=".1" height="1" transform="translate(-5.33)"/><rect x="9.33" y="7" width=".1" height="1" transform="translate(-9.33)"/><rect x="9.33" y="8" width=".1" height="1" transform="translate(-9.33)"/><rect x="1.33" y="9" width=".1" height="1" transform="translate(-1.33)"/><rect x="1.33" y="10" width=".1" height="1" transform="translate(-1.33)"/><rect x="5.33" y="11" width=".1" height="1" transform="translate(-5.33)"/><rect x="5.33" y="12" width=".1" height="1" transform="translate(-5.33)"/><rect x="8" y="13" width=".1" height="1" transform="translate(-8)"/><rect x="100" y="14" width=".1" height="1" transform="translate(-100)"/><rect x="10.67" y="15" width=".1" height="1" transform="translate(-10.67)"/></g>
<g transform="translate(632 526.5) scale(410 11.07)"><rect x="3.03" y="0" width=".1" height="1" transform="translate(-3.03)"/><rect x="4.55" y="1" width=".1" height="1" transform="translate(-4.55)"/><rect x="3.03" y="2" width=".1" height="1" transform="translate(-3.03)"/><rect x="4.55" y="3" width=".1" height="1" transform="translate(-4.55)"/><rect x="3.03" y="4" width=".1" height="1" transform="translate(-3.03)"/><rect x="3.03" y="5" width=".1" height="1" transform="translate(-3.03)"/><rect x="3.03" y="6" width=".1" height="1" transform="translate(-3.03)"/><rect x="3.03" y="7" width=".1" height="1" transform="translate(-3.03)"/><rect x="3.03" y="8" width=".1" height="1" transform="translate(-3.03)"/><rect x="1.52" y="9" width=".1" height="1" transform="translate(-1.52)"/><rect x="1.52" y="10" width=".1" height="1" transform="translate(-1.52)"/><rect x="1.52" y="11" width=".1" height="1" transform="translate(-1.52)"/><rect x="4.55" y="12" width=".1" height="1" transform="translate(-4.55)"/><rect x="4.55" y="13" width=".1" height="1" transform="translate(-4.55)"/><rect x="12.12" y="14" width=".1" height="1" transform="translate(-12.12)"/><rect x="100" y="15" width=".1" height="1" transform="translate(-100)"/></g>
</g>
<text class="nm" x="1.5" y="524">Name</text>
<text class="t" y="524"><tspan x="59">DLP_2</tspan><tspan x="95">DLP_1</tspan><tspan x="131">Kakheti25</tspan><tspan x="180">PS9N</tspan><tspan x="208">PA73</tspan><tspan x="245">SCH_Ab26</tspan><tspan x="299">KL1</tspan><tspan x="332">RcTitan</tspan><tspan x="372">RcSpartan</tspan><tspan x="425">IME_AB3</tspan><tspan x="472">Loki</tspan><tspan x="499">IMEP1</tspan><tspan x="533">Cajan</tspan><tspan x="566">Jersey</tspan><tspan x="602">Chi</tspan><tspan x="633">Lambda</tspan></text>
<g class="t">
<text x="1.5" y="535.2">DLP_2</text><text x="1.5" y="546.3">DLP_1</text><text x="1.5" y="557.3">Kakheti25</text><text x="1.5" y="568.4">PS9N</text><text x="1.5" y="579.5">PA73</text><text x="1.5" y="590.6">SCH_Ab26</text><text x="1.5" y="601.6">KL1</text><text x="1.5" y="612.7">RcTitan</text><text x="1.5" y="623.8">RcSpartan</text><text x="1.5" y="634.8">IME_AB3</text><text x="1.5" y="645.9">Loki</text><text x="1.5" y="657">IMEP1</text><text x="1.5" y="668">Cajan</text><text x="1.5" y="679.1">Jersey</text><text x="1.5" y="690.2">Chi</text><text x="1.5" y="701.3">Lambda</text>
</g>
<text class="v" y="535.2"><tspan x="86">100</tspan><tspan x="126.5">96.49</tspan><tspan x="170.5">93.1</tspan><tspan x="204">92.59</tspan><tspan x="234">94.23</tspan><tspan x="296">92.31</tspan><tspan x="328">80</tspan><tspan x="363">50.82</tspan><tspan x="421.5">47.54</tspan><tspan x="468">54.39</tspan><tspan x="495">56.86</tspan><tspan x="527">48.08</tspan><tspan x="557">13.19</tspan><tspan x="594">8.7</tspan><tspan x="625">6.67</tspan><tspan x="670.5">3.03</tspan></text>
<text class="v" y="546.3"><tspan x="86">94.83</tspan><tspan x="126.5">100</tspan><tspan x="170.5">89.66</tspan><tspan x="204">90.74</tspan><tspan x="234">92.31</tspan><tspan x="296">92.31</tspan><tspan x="328">80</tspan><tspan x="363">52.46</tspan><tspan x="421.5">49.18</tspan><tspan x="468">54.39</tspan><tspan x="495">58.82</tspan><tspan x="527">50</tspan><tspan x="557">14.29</tspan><tspan x="594">8.7</tspan><tspan x="625">5.33</tspan><tspan x="670.5">4.55</tspan></text>
<text class="v" y="557.3"><tspan x="86">91.38</tspan><tspan x="126.5">89.47</tspan><tspan x="170.5">100</tspan><tspan x="204">92.59</tspan><tspan x="234">90.38</tspan><tspan x="296">96.15</tspan><tspan x="328">83.64</tspan><tspan x="363">50.82</tspan><tspan x="421.5">47.54</tspan><tspan x="468">52.63</tspan><tspan x="495">58.82</tspan><tspan x="527">46.15</tspan><tspan x="557">13.19</tspan><tspan x="594">8.7</tspan><tspan x="625">5.33</tspan><tspan x="670.5">3.03</tspan></text>
<text class="v" y="568.4"><tspan x="86">86.21</tspan><tspan x="126.5">85.96</tspan><tspan x="170.5">86.21</tspan><tspan x="204">100</tspan><tspan x="234">88.46</tspan><tspan x="296">84.62</tspan><tspan x="328">80</tspan><tspan x="363">50.82</tspan><tspan x="421.5">47.54</tspan><tspan x="468">50.88</tspan><tspan x="495">54.9</tspan><tspan x="527">46.15</tspan><tspan x="557">14.29</tspan><tspan x="594">8.7</tspan><tspan x="625">5.33</tspan><tspan x="670.5">4.55</tspan></text>
<text class="v" y="579.5"><tspan x="86">84.48</tspan><tspan x="126.5">80.7</tspan><tspan x="170.5">82.76</tspan><tspan x="204">85.19</tspan><tspan x="234">100</tspan><tspan x="296">84.62</tspan><tspan x="328">76.36</tspan><tspan x="363">52.46</tspan><tspan x="421.5">49.18</tspan><tspan x="468">54.39</tspan><tspan x="495">56.86</tspan><tspan x="527">48.08</tspan><tspan x="557">14.29</tspan><tspan x="594">8.7</tspan><tspan x="625">5.33</tspan><tspan x="670.5">3.03</tspan></text>
<text class="v" y="590.6"><tspan x="86">82.76</tspan><tspan x="126.5">84.21</tspan><tspan x="170.5">87.93</tspan><tspan x="204">81.48</tspan><tspan x="234">84.62</tspan><tspan x="296">100</tspan><tspan x="328">78.18</tspan><tspan x="363">50.82</tspan><tspan x="421.5">49.18</tspan><tspan x="468">50.88</tspan><tspan x="495">54.9</tspan><tspan x="527">48.08</tspan><tspan x="557">14.29</tspan><tspan x="594">8.7</tspan><tspan x="625">6.67</tspan><tspan x="670.5">3.03</tspan></text>
<text class="v" y="601.6"><tspan x="86">75.86</tspan><tspan x="126.5">77.19</tspan><tspan x="170.5">79.31</tspan><tspan x="204">81.48</tspan><tspan x="234">80.77</tspan><tspan x="296">82.69</tspan><tspan x="328">100</tspan><tspan x="363">50.82</tspan><tspan x="421.5">52.46</tspan><tspan x="468">49.12</tspan><tspan x="495">56.86</tspan><tspan x="527">53.85</tspan><tspan x="557">15.38</tspan><tspan x="594">10.14</tspan><tspan x="625">5.33</tspan><tspan x="670.5">3.03</tspan></text>
<text class="v" y="612.7"><tspan x="86">53.45</tspan><tspan x="126.5">56.14</tspan><tspan x="170.5">55.17</tspan><tspan x="204">57.41</tspan><tspan x="234">61.54</tspan><tspan x="296">59.62</tspan><tspan x="328">56.36</tspan><tspan x="363">100</tspan><tspan x="421.5">95.08</tspan><tspan x="468">45.61</tspan><tspan x="495">49.02</tspan><tspan x="527">50</tspan><tspan x="557">14.29</tspan><tspan x="594">8.7</tspan><tspan x="625">9.33</tspan><tspan x="670.5">3.03</tspan></text>
<text class="v" y="623.8"><tspan x="86">50</tspan><tspan x="126.5">52.63</tspan><tspan x="170.5">51.72</tspan><tspan x="204">53.7</tspan><tspan x="234">57.69</tspan><tspan x="296">57.69</tspan><tspan x="328">58.18</tspan><tspan x="363">95.08</tspan><tspan x="421.5">100</tspan><tspan x="468">45.61</tspan><tspan x="495">49.02</tspan><tspan x="527">50</tspan><tspan x="557">14.29</tspan><tspan x="594">8.7</tspan><tspan x="625">9.33</tspan><tspan x="670.5">3.03</tspan></text>
<text class="v" y="634.8"><tspan x="86">53.45</tspan><tspan x="126.5">54.39</tspan><tspan x="170.5">53.45</tspan><tspan x="204">53.7</tspan><tspan x="234">59.62</tspan><tspan x="296">55.77</tspan><tspan x="328">52.73</tspan><tspan x="363">42.62</tspan><tspan x="421.5">42.62</tspan><tspan x="468">100</tspan><tspan x="495">84.31</tspan><tspan x="527">46.15</tspan><tspan x="557">19.78</tspan><tspan x="594">8.7</tspan><tspan x="625">1.33</tspan><tspan x="670.5">1.52</tspan></text>
<text class="v" y="645.9"><tspan x="86">50</tspan><tspan x="126.5">52.63</tspan><tspan x="170.5">51.72</tspan><tspan x="204">51.85</tspan><tspan x="234">57.69</tspan><tspan x="296">55.76</tspan><tspan x="328">52.73</tspan><tspan x="363">40.98</tspan><tspan x="421.5">40.98</tspan><tspan x="468">75.44</tspan><tspan x="495">100</tspan><tspan x="527">46.15</tspan><tspan x="557">19.78</tspan><tspan x="594">10.14</tspan><tspan x="625">1.33</tspan><tspan x="670.5">1.52</tspan></text>
<text class="v" y="657"><tspan x="86">43.1</tspan><tspan x="126.5">45.61</tspan><tspan x="170.5">43.1</tspan><tspan x="204">44.44</tspan><tspan x="234">48.08</tspan><tspan x="296">48.08</tspan><tspan x="328">49.09</tspan><tspan x="363">42.62</tspan><tspan x="421.5">42.62</tspan><tspan x="468">42.11</tspan><tspan x="495">47.06</tspan><tspan x="527">100</tspan><tspan x="557">15.38</tspan><tspan x="594">11.59</tspan><tspan x="625">5.33</tspan><tspan x="670.5">1.52</tspan></text>
<text class="v" y="668"><tspan x="86">20.69</tspan><tspan x="126.5">22.81</tspan><tspan x="170.5">20.69</tspan><tspan x="204">24.07</tspan><tspan x="234">25</tspan><tspan x="296">25</tspan><tspan x="328">23.64</tspan><tspan x="363">22.95</tspan><tspan x="421.5">21.31</tspan><tspan x="468">31.58</tspan><tspan x="495">35.29</tspan><tspan x="527">23.08</tspan><tspan x="557">100</tspan><tspan x="594">13.04</tspan><tspan x="625">5.33</tspan><tspan x="670.5">4.55</tspan></text>
<text class="v" y="679.1"><tspan x="86">10.34</tspan><tspan x="126.5">10.53</tspan><tspan x="170.5">10.34</tspan><tspan x="204">11.1</tspan><tspan x="234">11.54</tspan><tspan x="296">11.54</tspan><tspan x="328">12.73</tspan><tspan x="363">9.84</tspan><tspan x="421.5">11.48</tspan><tspan x="468">10.53</tspan><tspan x="495">13.73</tspan><tspan x="527">15.38</tspan><tspan x="557">9.89</tspan><tspan x="594">100</tspan><tspan x="625">8</tspan><tspan x="670.5">4.55</tspan></text>
<text class="v" y="690.2"><tspan x="86">8.62</tspan><tspan x="126.5">7.02</tspan><tspan x="170.5">6.9</tspan><tspan x="204">7.41</tspan><tspan x="234">7.69</tspan><tspan x="296">7.69</tspan><tspan x="328">9.62</tspan><tspan x="363">7.27</tspan><tspan x="421.5">11.48</tspan><tspan x="468">1.75</tspan><tspan x="495">1.96</tspan><tspan x="527">7.69</tspan><tspan x="557">4.4</tspan><tspan x="594">8.7</tspan><tspan x="625">100</tspan><tspan x="670.5">12.12</tspan></text>
<text class="v" y="701.3"><tspan x="86">1.72</tspan><tspan x="126.5">3.51</tspan><tspan x="170.5">1.72</tspan><tspan x="204">3.7</tspan><tspan x="234">1.92</tspan><tspan x="296">1.92</tspan><tspan x="328">3.64</tspan><tspan x="363">3.28</tspan><tspan x="421.5">3.28</tspan><tspan x="468">1.75</tspan><tspan x="495">1.96</tspan><tspan x="527">1.92</tspan><tspan x="557">4.4</tspan><tspan x="594">2.9</tspan><tspan x="625">10.67</tspan><tspan x="670.5">100</tspan></text>
</g>
</svg>
